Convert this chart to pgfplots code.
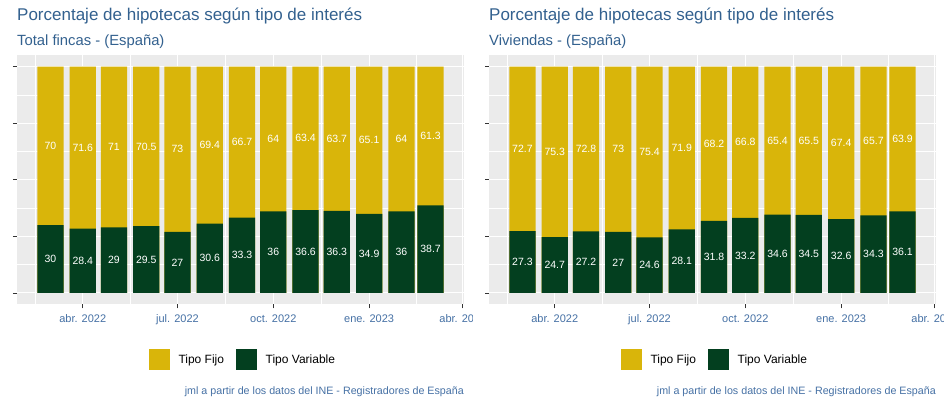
\documentclass[border=0pt]{standalone}
\usepackage{pgfplots}
\pgfplotsset{compat=1.18}
\usepackage{pgfplotstable}
\usepackage{fontspec}
\setmainfont{Liberation Sans}
\definecolor{fijo}{HTML}{D9B50A}
\definecolor{vari}{HTML}{033F1F}
\definecolor{panelbg}{HTML}{EBEBEB}
\definecolor{titlecol}{HTML}{33618F}
\definecolor{tickcol}{HTML}{4671A5}

% x = days since 2022-01-01 (bars at first day of month, Mar 2022 - Mar 2023)
\pgfplotstableread{
x fijo var
59 70 30
90 71.6 28.4
120 71 29
151 70.5 29.5
181 73 27
212 69.4 30.6
243 66.7 33.3
273 64 36
304 63.4 36.6
334 63.7 36.3
365 65.1 34.9
396 64 36
424 61.3 38.7
}\total

\pgfplotstableread{
x fijo var
59 72.7 27.3
90 75.3 24.7
120 72.8 27.2
151 73 27
181 75.4 24.6
212 71.9 28.1
243 68.2 31.8
273 66.8 33.2
304 65.4 34.6
334 65.5 34.5
365 67.4 32.6
396 65.7 34.3
424 63.9 36.1
}\viviendas

\pgfplotsset{
  mylegend/.style={legend image code/.code={\draw[##1, draw=white, line width=0.6pt] (0pt,-11pt) rectangle (22pt,11pt);}},
  labs/.style={draw=none, mark=none, forget plot, nodes near coords, point meta=explicit symbolic,
    nodes near coords align={center},
    every node near coord/.append style={font=\fontsize{10.5}{12}\selectfont, text=white, anchor=center, inner sep=0pt}},
  panel/.style={
    scale only axis, width=447pt, height=249pt, anchor=south west,
    xmin=26.9, xmax=456.1, ymin=-5, ymax=105,
    axis background/.style={fill=panelbg},
    axis line style={draw=none},
    xtick={90,181,273,365,455},
    xticklabels={abr. 2022, jul. 2022, oct. 2022, ene. 2023, abr. 2023},
    minor xtick={44.5,135.5,227,319,410},
    ytick={0,25,50,75,100}, yticklabels={,,,,},
    minor ytick={12.5,37.5,62.5,87.5},
    grid=both,
    major grid style={white, line width=1pt},
    minor grid style={white, line width=0.55pt},
    tick align=outside, tick pos=left,
    major tick length=4pt, minor tick length=0pt,
    tick style={draw=black!80, line width=0.8pt},
    xticklabel style={font=\fontsize{11}{13}\selectfont, text=tickcol},
    xticklabel shift=3pt,
    legend style={at={(0.2924,-0.222)}, anchor=west, draw=none, fill=none, inner sep=0pt,
      font=\fontsize{12}{14}\selectfont,
      /tikz/every odd column/.append style={column sep=6pt},
      /tikz/every even column/.append style={column sep=9pt}},
    legend columns=2,
  }
}

\begin{document}
\begin{tikzpicture}[x=1pt,y=1pt]
\useasboundingbox (0,0) rectangle (944,404);
\fill[white] (0,0) rectangle (944,404);

% ---------- left panel ----------
\begin{scope}
\clip (0,0) rectangle (472,404);
\node[anchor=base west, text=titlecol, font=\fontsize{17}{20}\selectfont, inner sep=0pt] at (17,383) {Porcentaje de hipotecas según tipo de interés};
\node[anchor=base west, text=titlecol, font=\fontsize{14.8}{17}\selectfont, inner sep=0pt] at (17,358.3) {Total fincas - (España)};
\begin{axis}[panel, at={(17pt,99.7pt)}]
\addplot[ybar, bar width=25.2, fill=fijo, draw=none, mylegend] table[x=x, y expr=\thisrow{fijo}+\thisrow{var}] {\total};
\addlegendentry{Tipo Fijo}
\addplot[ybar, bar width=25.2, fill=vari, draw=none, mylegend] table[x=x, y=var] {\total};
\addlegendentry{Tipo Variable}
\addplot[labs] table[x=x, y expr=\thisrow{var}/2, meta=var] {\total};
\addplot[labs] table[x=x, y expr=\thisrow{var}+\thisrow{fijo}/2, meta=fijo] {\total};
\end{axis}
\node[anchor=base east, text=tickcol, font=\fontsize{10.7}{12}\selectfont, inner sep=0pt] at (464,10) {jml a partir de los datos del INE - Registradores de España};
\end{scope}

% ---------- right panel ----------
\begin{scope}
\clip (472,0) rectangle (944,404);
\node[anchor=base west, text=titlecol, font=\fontsize{17}{20}\selectfont, inner sep=0pt] at (489,383) {Porcentaje de hipotecas según tipo de interés};
\node[anchor=base west, text=titlecol, font=\fontsize{14.8}{17}\selectfont, inner sep=0pt] at (489,358.3) {Viviendas - (España)};
\begin{axis}[panel, at={(489pt,99.7pt)}]
\addplot[ybar, bar width=25.2, fill=fijo, draw=none, mylegend] table[x=x, y expr=\thisrow{fijo}+\thisrow{var}] {\viviendas};
\addlegendentry{Tipo Fijo}
\addplot[ybar, bar width=25.2, fill=vari, draw=none, mylegend] table[x=x, y=var] {\viviendas};
\addlegendentry{Tipo Variable}
\addplot[labs] table[x=x, y expr=\thisrow{var}/2, meta=var] {\viviendas};
\addplot[labs] table[x=x, y expr=\thisrow{var}+\thisrow{fijo}/2, meta=fijo] {\viviendas};
\end{axis}
\node[anchor=base east, text=tickcol, font=\fontsize{10.7}{12}\selectfont, inner sep=0pt] at (936,10) {jml a partir de los datos del INE - Registradores de España};
\end{scope}
\end{tikzpicture}
\end{document}
